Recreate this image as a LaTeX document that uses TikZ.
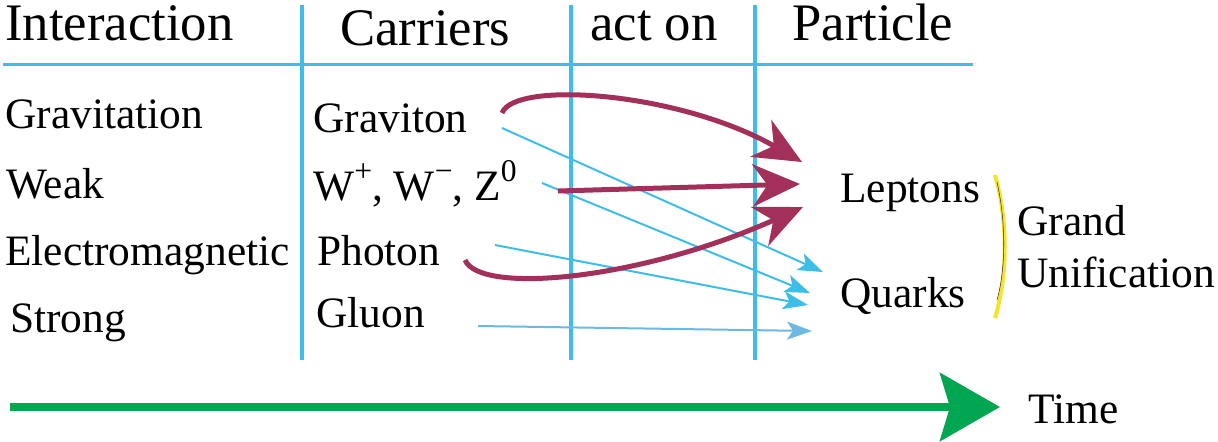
\documentclass[tikz,border=0pt]{standalone}
\usepackage{fontspec}
\setmainfont{Liberation Serif}
\usepackage{tikz}
\usetikzlibrary{arrows.meta}
\usepackage{xcolor}
\definecolor{rule}{HTML}{3DBDE8}
\definecolor{pale}{HTML}{6DB9E2}
\definecolor{wine}{HTML}{A2305B}
\definecolor{grass}{HTML}{00A651}
\definecolor{sun}{HTML}{F6E42C}
\newcommand{\upidx}[1]{\raisebox{0.42em}{\fontsize{18}{18}\selectfont #1}}

\begin{document}
\begin{tikzpicture}[
    x=0.02cm, y=-0.02cm,
    every node/.style={inner sep=0, anchor=base west, font=\fontsize{24.7}{30}\selectfont},
    head/.style={font=\fontsize{30}{36}\selectfont},
    grid line/.style={draw=rule, line width=0.08cm},
    thin link/.style={draw=rule, line width=0.04cm, -{Stealth[length=0.5cm, width=0.36cm, inset=0.12cm]}},
    thick link/.style={draw=wine, line width=0.1cm, -{Stealth[length=0.95cm, width=0.85cm, inset=0.3cm]}},
    >=Stealth
]
\useasboundingbox (0,0) rectangle (1218,441);

% Table
\draw[draw=rule, line width=0.06cm] (3,64) -- (973,64);
\foreach \x in {302, 571, 755}
    \draw[grid line] (\x,5) -- (\x,360);

\node[head] (hInter) at (5,40) {Interaction};
\node[head] (hCarr) at (340,45) {Carriers};
\node[head] (hAct) at (590,40) {act on};
\node[head] (hPart) at (792,40) {Particle};

\node (grav) at (5,128) {Gravitation};
\node (weak) at (6,198) {Weak};
\node (em) at (5,265) {Electromagnetic};
\node (strong) at (10,332) {Strong};

\node (graviton) at (313,132) {Graviton};
\node (wz) at (313,200) {W\upidx{+}, W\upidx{−}, Z\upidx{0}};
\node (photon) at (317,265) {Photon};
\node (gluon) at (316,327) {Gluon};

\node (leptons) at (840,202) {Leptons};
\node (quarks) at (840,307) {Quarks};
\node (grand) at (1017,235) {Grand};
\node (unif) at (1017,287) {Unification};
\node (time) at (1028,423) {Time};

% Connector ends
\coordinate (gravA) at (502,113);
\coordinate (gravB) at (502,128);
\coordinate (wzA) at (558,191);
\coordinate (wzB) at (542,183);
\coordinate (phoA) at (465,260);
\coordinate (phoB) at (495,245);
\coordinate (gluB) at (478,326);
\coordinate (lepT) at (802,162);
\coordinate (lepM) at (800,184);
\coordinate (lepL) at (803,207);
\coordinate (qT) at (823,272);
\coordinate (qM) at (810,293);
\coordinate (qL) at (808,305);
\coordinate (qB) at (812,331);

% Carriers to quarks
\draw[thin link] (gravB) -- (qT);
\draw[thin link] (wzB) -- (qM);
\draw[thin link] (phoB) -- (qL);
\draw[thin link, draw=pale] (gluB) -- (qB);

% Carriers to leptons
\draw[thick link] (gravA) .. controls (515,80) and (680,92) .. (lepT);
\draw[thick link] (wzA) -- (lepM);
\draw[thick link] (phoA) .. controls (480,295) and (640,280) .. (lepL);

% Bracket
\coordinate (brTop) at (995,175);
\coordinate (brBot) at (995,318);
\draw[draw=sun, line width=0.08cm] (brTop) .. controls (1008,220) and (1008,275) .. (brBot);
\draw[draw=black!80, line width=0.3pt] (997,182) .. controls (1006,222) and (1006,268) .. (997,300);

% Time axis
\coordinate (tStart) at (10,407);
\coordinate (tEnd) at (1000,407);
\draw[draw=grass, line width=0.16cm, -{Stealth[length=1.2cm, width=1.36cm, inset=0.2cm]}] (tStart) -- (tEnd);
\end{tikzpicture}
\end{document}
